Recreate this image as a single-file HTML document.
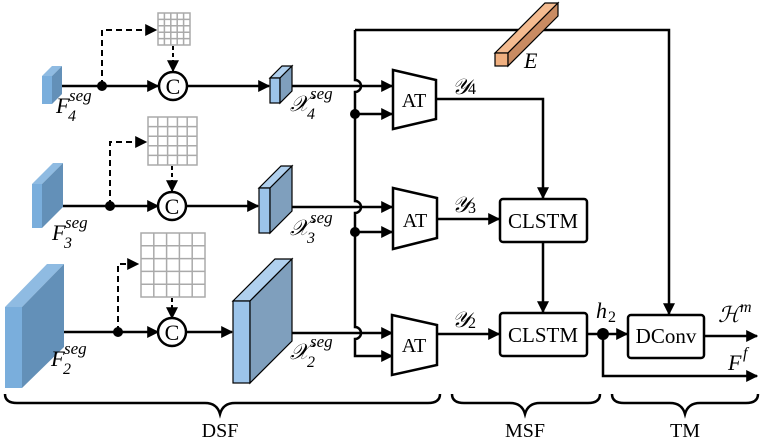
<!DOCTYPE html>
<html><head><meta charset="utf-8"><style>
html,body{margin:0;padding:0;background:#fff;}
svg{display:block;font-family:"Liberation Serif",serif;}
.m{font-style:italic;}
</style></head><body>
<svg width="764" height="440" viewBox="0 0 764 440" xmlns="http://www.w3.org/2000/svg">
<defs>
<marker id="A" viewBox="0 0 10 10" refX="9" refY="5" markerWidth="12" markerHeight="12" orient="auto" markerUnits="userSpaceOnUse">
<path d="M0,0 L10,5 L0,10 z" fill="#000"/></marker>
</defs>
<g stroke="#000" stroke-width="2.5" fill="none">
<line x1="62" y1="86" x2="158" y2="86" marker-end="url(#A)"/>
<line x1="186" y1="86" x2="269" y2="86" marker-end="url(#A)"/>
<polyline points="102,86 102,30 156,30" stroke-dasharray="6,4" stroke-width="2" marker-end="url(#A)"/>
<line x1="173" y1="46" x2="173" y2="71" stroke-dasharray="4,3" stroke-width="2" marker-end="url(#A)"/>
<line x1="63" y1="206" x2="158" y2="206" marker-end="url(#A)"/>
<line x1="186" y1="206" x2="258" y2="206" marker-end="url(#A)"/>
<polyline points="110,206 110,142 146,142" stroke-dasharray="6,4" stroke-width="2" marker-end="url(#A)"/>
<line x1="172" y1="166" x2="172" y2="191" stroke-dasharray="4,3" stroke-width="2" marker-end="url(#A)"/>
<line x1="64" y1="332" x2="158" y2="332" marker-end="url(#A)"/>
<line x1="186" y1="332" x2="232" y2="332" marker-end="url(#A)"/>
<polyline points="118,332 118,264 138,264" stroke-dasharray="6,4" stroke-width="2" marker-end="url(#A)"/>
<line x1="172" y1="298" x2="172" y2="318" stroke-dasharray="4,3" stroke-width="2" marker-end="url(#A)"/>
<line x1="292" y1="86" x2="392" y2="86" marker-end="url(#A)"/>
<line x1="292" y1="207" x2="392" y2="207" marker-end="url(#A)"/>
<line x1="292" y1="333" x2="392" y2="333" marker-end="url(#A)"/>
<path d="M355,30 V80 a6,6 0 0 1 0,12 V201 a6,6 0 0 1 0,12 V327 a6,6 0 0 1 0,12 V356 H392" marker-end="url(#A)"/>
<line x1="355" y1="114" x2="392" y2="114" marker-end="url(#A)"/>
<line x1="355" y1="232" x2="392" y2="232" marker-end="url(#A)"/>
<polyline points="355,30 669,30 669,314" marker-end="url(#A)"/>
<polygon points="393,70 436,80 436,119 393,129" fill="#fff"/>
<polygon points="393,188 437,198 437,238 393,249" fill="#fff"/>
<polygon points="392,315 437,325 437,365 392,375" fill="#fff"/>
<polyline points="436,99 543,99 543,198" marker-end="url(#A)"/>
<line x1="437" y1="219" x2="499" y2="219" marker-end="url(#A)"/>
<line x1="543" y1="242" x2="543" y2="312" marker-end="url(#A)"/>
<line x1="437" y1="334" x2="499" y2="334" marker-end="url(#A)"/>
<rect x="500" y="199" width="87" height="43" rx="3" fill="#fff"/>
<rect x="500" y="313" width="87" height="43" rx="3" fill="#fff"/>
<line x1="587" y1="334" x2="627" y2="334" marker-end="url(#A)"/>
<rect x="628" y="315" width="76" height="43" rx="3" fill="#fff"/>
<polyline points="603,334 603,376 757,376" marker-end="url(#A)"/>
<line x1="704" y1="336" x2="757" y2="336" marker-end="url(#A)"/>
<circle cx="173" cy="86" r="14" fill="#fff"/>
<circle cx="172" cy="206" r="14" fill="#fff"/>
<circle cx="172" cy="332" r="14" fill="#fff"/>
<path d="M5,394 q0,9 12,9 H205 q12,0 15,11 q3,-11 15,-11 H428 q12,0 12,-9"/>
<path d="M452,394 q0,9 12,9 H510 q12,0 15,11 q3,-11 15,-11 H588 q12,0 12,-9"/>
<path d="M612,394 q0,9 12,9 H670 q12,0 15,11 q3,-11 15,-11 H746 q12,0 12,-9"/>
</g>
<g fill="#000">
<circle cx="102" cy="86" r="5"/><circle cx="110" cy="206" r="5"/><circle cx="118" cy="332" r="5"/>
<circle cx="355" cy="114" r="5"/><circle cx="355" cy="232" r="5"/><circle cx="603" cy="334" r="6"/>
</g>
<g stroke="#aaa" stroke-width="1.5" fill="#fff">
<rect x="158" y="13" width="32" height="32"/>
<path d="M164.4,13V45M170.8,13V45M177.2,13V45M183.6,13V45M158,19.4H190M158,25.8H190M158,32.2H190M158,38.6H190"/>
<rect x="148" y="117" width="49" height="48"/>
<path d="M157.8,117V165M167.6,117V165M177.4,117V165M187.2,117V165M148,126.6H197M148,136.2H197M148,145.8H197M148,155.4H197"/>
<rect x="141" y="233" width="64" height="64"/>
<path d="M153.8,233V297M166.6,233V297M179.4,233V297M192.2,233V297M141,245.8H205M141,258.6H205M141,271.4H205M141,284.2H205"/>
</g>
<g>
<polygon points="42,76 52,76 62,66 52,66" fill="#8fbbe2"/><rect x="42" y="76" width="10" height="28" fill="#7aaedc"/><polygon points="52,76 62,66 62,94 52,104" fill="#6390b8"/>
<polygon points="32,184 42,184 63,163 53,163" fill="#8fbbe2"/><rect x="32" y="184" width="10" height="44" fill="#7aaedc"/><polygon points="42,184 63,163 63,207 42,228" fill="#6390b8"/>
<polygon points="5,307 22,307 64,264 47,264" fill="#8fbbe2"/><rect x="5" y="307" width="17" height="81" fill="#7aaedc"/><polygon points="22,307 64,264 64,347 22,388" fill="#6390b8"/>
</g>
<g stroke="#000" stroke-width="1.2">
<polygon points="270,78 280,78 292,66 282,66" fill="#b0d0ee"/><rect x="270" y="78" width="10" height="25" fill="#9cc4ea"/><polygon points="280,78 292,66 292,91 280,103" fill="#7f9fbd"/>
<polygon points="259,188 270,188 292,166 281,166" fill="#b0d0ee"/><rect x="259" y="188" width="11" height="45" fill="#9cc4ea"/><polygon points="270,188 292,166 292,211 270,233" fill="#7f9fbd"/>
<polygon points="233,301 250,301 292,259 275,259" fill="#b0d0ee"/><rect x="233" y="301" width="17" height="82" fill="#9cc4ea"/><polygon points="250,301 292,259 292,341 250,383" fill="#7f9fbd"/>
<polygon points="495,53 508,53 558,3 545,3" fill="#f4bb90"/><rect x="495" y="53" width="13" height="13" fill="#f0b080"/><polygon points="508,53 558,3 558,16 508,66" fill="#c98b62"/>
</g>
<g font-size="22" text-anchor="middle">
<text x="173" y="94">C</text><text x="172" y="214">C</text><text x="172" y="340">C</text>
<text x="414" y="107" font-size="20">AT</text><text x="415" y="227" font-size="20">AT</text><text x="414" y="352" font-size="20">AT</text>
<text x="543" y="228" font-size="21">CLSTM</text><text x="543" y="342" font-size="21">CLSTM</text><text x="666" y="343" font-size="21">DConv</text>
<text x="220" y="437" font-size="20">DSF</text><text x="525" y="437" font-size="20">MSF</text><text x="685" y="437" font-size="20">TM</text>
</g>
<g class="m" font-size="22">
<text x="56" y="113">F</text><text x="68" y="121" font-size="16">4</text><text x="69" y="101" font-size="17">seg</text>
<text x="52" y="240">F</text><text x="64" y="248" font-size="16">3</text><text x="65" y="228" font-size="17">seg</text>
<text x="51" y="366">F</text><text x="63" y="374" font-size="16">2</text><text x="64" y="354" font-size="17">seg</text>
<text x="290" y="111">𝒳</text><text x="307" y="119" font-size="16">4</text><text x="310" y="99" font-size="17">seg</text>
<text x="290" y="235">𝒳</text><text x="307" y="243" font-size="16">3</text><text x="310" y="223" font-size="17">seg</text>
<text x="290" y="359">𝒳</text><text x="307" y="367" font-size="16">2</text><text x="310" y="347" font-size="17">seg</text>
<text x="452" y="94">𝒴</text><text x="468" y="94" font-size="16" font-style="normal">4</text>
<text x="452" y="212">𝒴</text><text x="468" y="213" font-size="16" font-style="normal">3</text>
<text x="452" y="327">𝒴</text><text x="468" y="328" font-size="16" font-style="normal">2</text>
<text x="524" y="68">E</text>
<text x="596" y="318">h</text><text x="608" y="322" font-size="16" font-style="normal">2</text>
<text x="718" y="322">ℋ</text><text x="740" y="312" font-size="16">m</text>
<text x="728" y="370">F</text><text x="743" y="358" font-size="16">f</text>
</g>
</svg>
</body></html>
